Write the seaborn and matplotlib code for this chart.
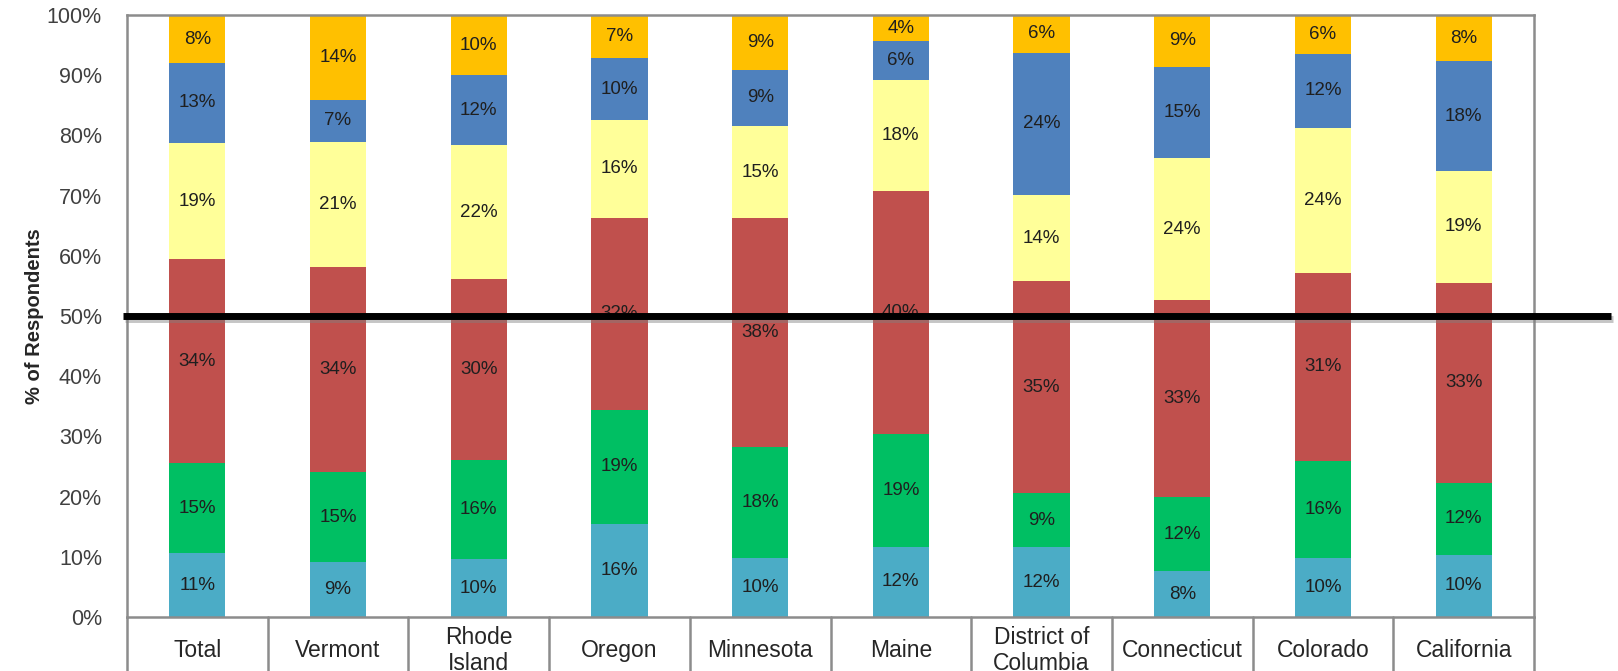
import numpy as np
import pandas as pd
import matplotlib
matplotlib.use("Agg")
import matplotlib.pyplot as plt
import matplotlib.transforms as mtransforms
import matplotlib.patheffects as pe
import seaborn as sns

categories = ["Total", "Vermont", "Rhode\nIsland", "Oregon", "Minnesota", "Maine",
              "District of\nColumbia", "Connecticut", "Colorado", "California"]

# segments from bottom to top (percent of respondents)
seg1_teal   = [10.6,  9.1,  9.6, 15.5,  9.8, 11.7, 11.6,  7.6,  9.8, 10.3]
seg2_green  = [14.9, 15.0, 16.4, 18.9, 18.4, 18.7,  9.0, 12.3, 16.1, 12.0]
seg3_red    = [33.9, 34.0, 30.1, 31.9, 38.0, 40.4, 35.2, 32.7, 31.3, 33.2]
seg4_yellow = [19.4, 20.8, 22.3, 16.3, 15.4, 18.4, 14.3, 23.7, 24.1, 18.6]
seg5_blue   = [13.2,  7.0, 11.6, 10.2,  9.3,  6.4, 23.6, 15.1, 12.3, 18.2]
seg6_gold   = [ 8.0, 14.1, 10.0,  7.2,  9.1,  4.4,  6.3,  8.6,  6.4,  7.7]

segments = [seg1_teal, seg2_green, seg3_red, seg4_yellow, seg5_blue, seg6_gold]
colors = ["#4BACC6", "#00BF63", "#C0504D", "#FFFF99", "#4F81BD", "#FFC000"]
reference_level = 50

sns.set_theme(style="white")
plt.rcParams['font.family'] = ['Liberation Sans', 'DejaVu Sans']

fig = plt.figure(figsize=(16.18, 6.71), dpi=100)
ax = fig.add_axes([127/1618, 54/671, (1534-127)/1618, (617-15)/671])

vals = np.array(segments)
cum = np.cumsum(vals, axis=0)
df = pd.DataFrame({"cat": categories})

# draw cumulative layers from top to bottom so each lower layer overlays
for i in range(len(segments) - 1, -1, -1):
    df["h"] = cum[i]
    sns.barplot(data=df, x="cat", y="h", color=colors[i], width=0.4,
                saturation=1, ax=ax, edgecolor="none", linewidth=0, zorder=2)

# value labels
for i in range(len(segments)):
    for j in range(len(categories)):
        v = vals[i][j]
        ax.text(j, cum[i][j] - v / 2, f"{v:.0f}%", ha="center",
                va="center", fontsize=13.5, color="#1f1f1f", zorder=3)

ax.set_ylim(0, 100)
ax.set_xlim(-0.5, len(categories) - 0.5)
ax.set_yticks(np.arange(0, 101, 10))
ax.set_yticklabels([f"{v}%" for v in range(0, 101, 10)], fontsize=15.5, color="#404040")
ax.tick_params(axis="y", length=0, pad=18)
ax.set_xticks(range(len(categories)))
ax.set_xticklabels(categories, fontsize=16.5, color="#262626", va="center",
                   multialignment="center", linespacing=1.15)
ax.tick_params(axis="x", length=0, pad=24)
ax.set_xlabel("")
ax.set_ylabel("% of Respondents", fontsize=14.5, fontweight="bold", color="#262626",
              labelpad=2)

for s in ax.spines.values():
    s.set_color("#8c8c8c")
    s.set_linewidth(1.8)
    s.set_visible(True)

# category table separators below the axis
trans_xa = mtransforms.blended_transform_factory(ax.transData, ax.transAxes)
for k in range(len(categories) + 1):
    ax.plot([k - 0.5, k - 0.5], [0, -0.2], transform=trans_xa, color="#8c8c8c",
            lw=1.8, clip_on=False, zorder=1)

# thick reference line at 50%
trans_fd = mtransforms.blended_transform_factory(fig.transFigure, ax.transData)
ax.plot([123/1618, 1611/1618], [reference_level, reference_level], transform=trans_fd,
        color="black", lw=5, solid_capstyle="butt", clip_on=False, zorder=5,
        path_effects=[pe.SimpleLineShadow(offset=(1.5, -2.5), shadow_color="gray", alpha=0.45),
                      pe.Normal()])

fig.savefig("out.png", dpi=100)
